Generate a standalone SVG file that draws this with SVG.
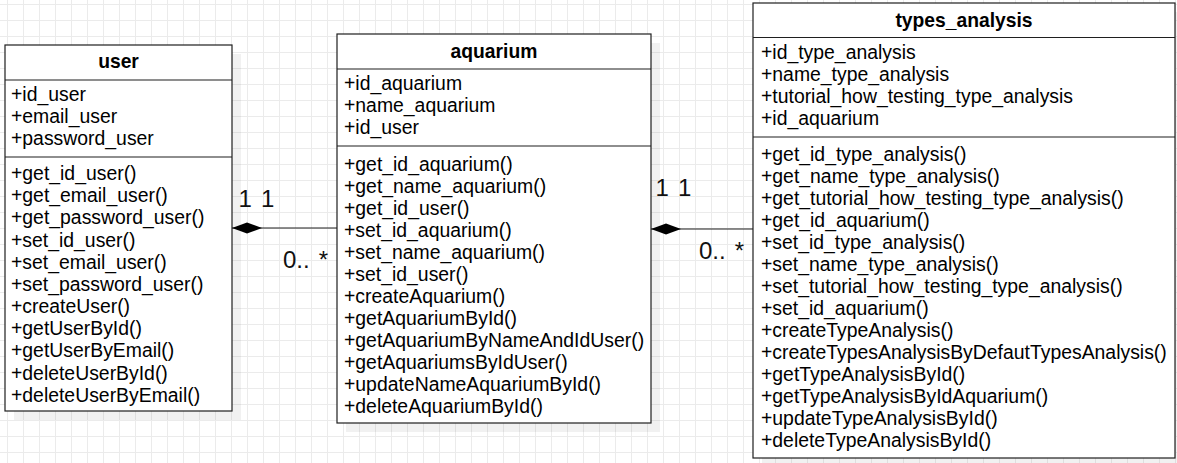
<svg xmlns="http://www.w3.org/2000/svg" width="1177" height="463" viewBox="0 0 1177 463">
<style>
.box{fill:#fff;stroke:#1f1f1f;stroke-width:1.2}
.shadow{fill:#000;fill-opacity:0.055}
.sep{stroke:#1f1f1f;stroke-width:1.2}
.title{font-family:"Liberation Sans",Arial,sans-serif;font-size:19.3px;font-weight:bold;fill:#000;text-anchor:middle}
.item{font-family:"Liberation Sans",Arial,sans-serif;font-size:19.4px;fill:#000}
.lbl{font-family:"Liberation Sans",Arial,sans-serif;font-size:24px;fill:#111;word-spacing:2.5px}
.conn{stroke:#1f1f1f;stroke-width:1.2;fill:none}
</style>
<defs>
<pattern id="grid" x="7" y="4" width="16" height="16" patternUnits="userSpaceOnUse">
<path d="M0 0.5H16M0.5 0V16" stroke="#ebebeb" stroke-width="1" fill="none"/>
</pattern>
<marker id="diamond" markerUnits="userSpaceOnUse" markerWidth="31" markerHeight="12" refX="0" refY="5.5" orient="auto" overflow="visible">
<path d="M0,5.5 L15,0 L30,5.5 L15,11 Z" fill="#000"/>
</marker>
</defs>
<rect width="1177" height="463" fill="#fff"/>
<rect width="1177" height="463" fill="url(#grid)"/>

<g id="shadows">
<rect class="shadow" x="14" y="54" width="227" height="366"/>
<rect class="shadow" x="346" y="43" width="314" height="389"/>
<rect class="shadow" x="762" y="12" width="415" height="455"/>
</g>

<g id="user">
<rect class="box" x="5" y="45" width="227" height="366"/>
<line class="sep" x1="5" y1="80" x2="232" y2="80"/>
<line class="sep" x1="5" y1="157" x2="232" y2="157"/>
<text class="title" x="118.5" y="68">user</text>
<text class="item">
<tspan x="11" y="101">+id_user</tspan>
<tspan x="11" y="123">+email_user</tspan>
<tspan x="11" y="145">+password_user</tspan>
</text>
<text class="item">
<tspan x="11" y="180">+get_id_user()</tspan>
<tspan x="11" y="202.2">+get_email_user()</tspan>
<tspan x="11" y="224.4">+get_password_user()</tspan>
<tspan x="11" y="246.5">+set_id_user()</tspan>
<tspan x="11" y="268.7">+set_email_user()</tspan>
<tspan x="11" y="290.9">+set_password_user()</tspan>
<tspan x="11" y="313">+createUser()</tspan>
<tspan x="11" y="335.2">+getUserById()</tspan>
<tspan x="11" y="357.4">+getUserByEmail()</tspan>
<tspan x="11" y="379.5">+deleteUserById()</tspan>
<tspan x="11" y="401.7">+deleteUserByEmail()</tspan>
</text>
</g>

<g id="aquarium">
<rect class="box" x="337" y="34" width="314" height="389"/>
<line class="sep" x1="337" y1="69" x2="651" y2="69"/>
<line class="sep" x1="337" y1="146" x2="651" y2="146"/>
<text class="title" x="494" y="58">aquarium</text>
<text class="item">
<tspan x="344" y="90">+id_aquarium</tspan>
<tspan x="344" y="112">+name_aquarium</tspan>
<tspan x="344" y="134">+id_user</tspan>
</text>
<text class="item">
<tspan x="344" y="170.5">+get_id_aquarium()</tspan>
<tspan x="344" y="192.5">+get_name_aquarium()</tspan>
<tspan x="344" y="214.5">+get_id_user()</tspan>
<tspan x="344" y="236.5">+set_id_aquarium()</tspan>
<tspan x="344" y="258.5">+set_name_aquarium()</tspan>
<tspan x="344" y="280.5">+set_id_user()</tspan>
<tspan x="344" y="302.5">+createAquarium()</tspan>
<tspan x="344" y="324.5">+getAquariumById()</tspan>
<tspan x="344" y="346.5">+getAquariumByNameAndIdUser()</tspan>
<tspan x="344" y="368.5">+getAquariumsByIdUser()</tspan>
<tspan x="344" y="390.5">+updateNameAquariumById()</tspan>
<tspan x="344" y="412.5">+deleteAquariumById()</tspan>
</text>
</g>

<g id="types_analysis">
<rect class="box" x="753" y="3" width="422" height="455"/>
<line class="sep" x1="753" y1="37.5" x2="1175" y2="37.5"/>
<line class="sep" x1="753" y1="137" x2="1175" y2="137"/>
<text class="title" x="964" y="27">types_analysis</text>
<text class="item">
<tspan x="761" y="59">+id_type_analysis</tspan>
<tspan x="761" y="81">+name_type_analysis</tspan>
<tspan x="761" y="103">+tutorial_how_testing_type_analysis</tspan>
<tspan x="761" y="125">+id_aquarium</tspan>
</text>
<text class="item">
<tspan x="761" y="160.5">+get_id_type_analysis()</tspan>
<tspan x="761" y="182.5">+get_name_type_analysis()</tspan>
<tspan x="761" y="204.5">+get_tutorial_how_testing_type_analysis()</tspan>
<tspan x="761" y="226.5">+get_id_aquarium()</tspan>
<tspan x="761" y="248.5">+set_id_type_analysis()</tspan>
<tspan x="761" y="270.5">+set_name_type_analysis()</tspan>
<tspan x="761" y="292.5">+set_tutorial_how_testing_type_analysis()</tspan>
<tspan x="761" y="314.5">+set_id_aquarium()</tspan>
<tspan x="761" y="336.5">+createTypeAnalysis()</tspan>
<tspan x="761" y="358.5">+createTypesAnalysisByDefautTypesAnalysis()</tspan>
<tspan x="761" y="380.5">+getTypeAnalysisById()</tspan>
<tspan x="761" y="402.5">+getTypeAnalysisByIdAquarium()</tspan>
<tspan x="761" y="424.5">+updateTypeAnalysisById()</tspan>
<tspan x="761" y="446.5">+deleteTypeAnalysisById()</tspan>
</text>
</g>

<g id="connectors">
<path class="conn" d="M232,228 L337,228" marker-start="url(#diamond)"/>
<text class="lbl" x="238.5" y="207">1 1</text>
<text class="lbl" x="283" y="268">0.. *</text>
<path class="conn" d="M651,229 L753,229" marker-start="url(#diamond)"/>
<text class="lbl" x="655.5" y="196">1 1</text>
<text class="lbl" x="699" y="258.5">0.. *</text>
</g>
</svg>
